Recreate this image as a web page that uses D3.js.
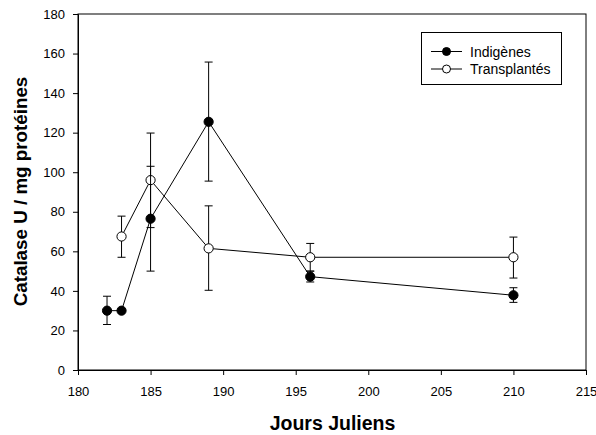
<!DOCTYPE html>
<html><head><meta charset="utf-8">
<script src="https://cdn.jsdelivr.net/npm/d3@7"></script>
<style>body{margin:0;background:#fff}svg{display:block}text{font-family:"Liberation Sans",Arial,sans-serif}</style>
</head><body>
<svg id="c" width="596" height="435"></svg>
<script>
const days = [182, 183, 185, 189, 196, 210];
const indigenes = [30, 30, 76.5, 125.5, 47.2, 37.8];
const indigenesLow = [23, null, 50, 95.5, 44.5, 34.2];
const indigenesHigh = [37.3, null, 103, 155.7, 50, 41.6];
const transDays = [183, 185, 189, 196, 210];
const transplantes = [67.5, 96, 61.5, 57, 57];
const transLow = [57, 72, 40.3, 50, 46.5];
const transHigh = [77.8, 119.8, 83, 64, 67.2];
const xTicks = [180, 185, 190, 195, 200, 205, 210, 215];
const yTicks = [0, 20, 40, 60, 80, 100, 120, 140, 160, 180];

const svg = d3.select("#c");
const L = 78, R = 586, T = 14, B = 370;
const x = d3.scaleLinear().domain([180, 215]).range([L, R]);
const y = d3.scaleLinear().domain([0, 180]).range([B, T]);

svg.append("rect").attr("x", L).attr("y", T).attr("width", R - L).attr("height", B - T)
  .attr("fill", "none").attr("stroke", "#000").attr("stroke-width", 1);

const xa = svg.append("g").attr("transform", `translate(0,${B})`)
  .call(d3.axisBottom(x).tickValues(xTicks).tickSize(5).tickPadding(12).tickFormat(d3.format("d")));
const ya = svg.append("g").attr("transform", `translate(${L},0)`)
  .call(d3.axisLeft(y).tickValues(yTicks).tickSize(5).tickPadding(8).tickFormat(d3.format("d")));
[xa, ya].forEach(a => {
  a.select(".domain").attr("stroke", "#000");
  a.selectAll("text").attr("font-size", 13).attr("fill", "#000").attr("font-family", '"Liberation Sans",Arial,sans-serif');
  a.selectAll("line").attr("stroke", "#000");
});

svg.append("text").attr("x", (L + R) / 2 + 0.5).attr("y", 430).attr("text-anchor", "middle")
  .attr("font-size", 19.5).attr("font-weight", "bold").text("Jours Juliens");
svg.append("text").attr("transform", `translate(27,191.5) rotate(-90)`).attr("text-anchor", "middle")
  .attr("font-size", 18.8).attr("font-weight", "bold").text("Catalase U / mg protéines");

function series(xs, vals, lo, hi, fill) {
  const pts = xs.map((d, i) => ({x: d, v: vals[i], lo: lo[i], hi: hi[i]}));
  const g = svg.append("g");
  pts.filter(p => p.lo != null).forEach(p => {
    const cx = x(p.x);
    g.append("line").attr("x1", cx).attr("x2", cx).attr("y1", y(p.lo)).attr("y2", y(p.hi)).attr("stroke", "#000");
    [p.lo, p.hi].forEach(e => g.append("line").attr("x1", cx - 4).attr("x2", cx + 4)
      .attr("y1", y(e)).attr("y2", y(e)).attr("stroke", "#000"));
  });
  g.append("path").datum(pts).attr("fill", "none").attr("stroke", "#000").attr("stroke-width", 1)
    .attr("d", d3.line().x(p => x(p.x)).y(p => y(p.v)));
  g.selectAll("circle").data(pts).join("circle").attr("cx", p => x(p.x)).attr("cy", p => y(p.v))
    .attr("r", 4.6).attr("fill", fill).attr("stroke", "#000").attr("stroke-width", 1);
}
series(transDays, transplantes, transLow, transHigh, "#fff");
series(days, indigenes, indigenesLow, indigenesHigh, "#000");

const lg = svg.append("g");
lg.append("rect").attr("x", 421.5).attr("y", 32.5).attr("width", 140).attr("height", 52)
  .attr("fill", "#fff").attr("stroke", "#000");
[["Indigènes", "#000", 51.5], ["Transplantés", "#fff", 69]].forEach(([t, f, ly]) => {
  lg.append("line").attr("x1", 431).attr("x2", 462).attr("y1", ly).attr("y2", ly).attr("stroke", "#000");
  lg.append("circle").attr("cx", 446.5).attr("cy", ly).attr("r", 4).attr("fill", f).attr("stroke", "#000");
  lg.append("text").attr("x", 470).attr("y", ly + 5).attr("font-size", 14).text(t);
});
</script>
</body></html>
